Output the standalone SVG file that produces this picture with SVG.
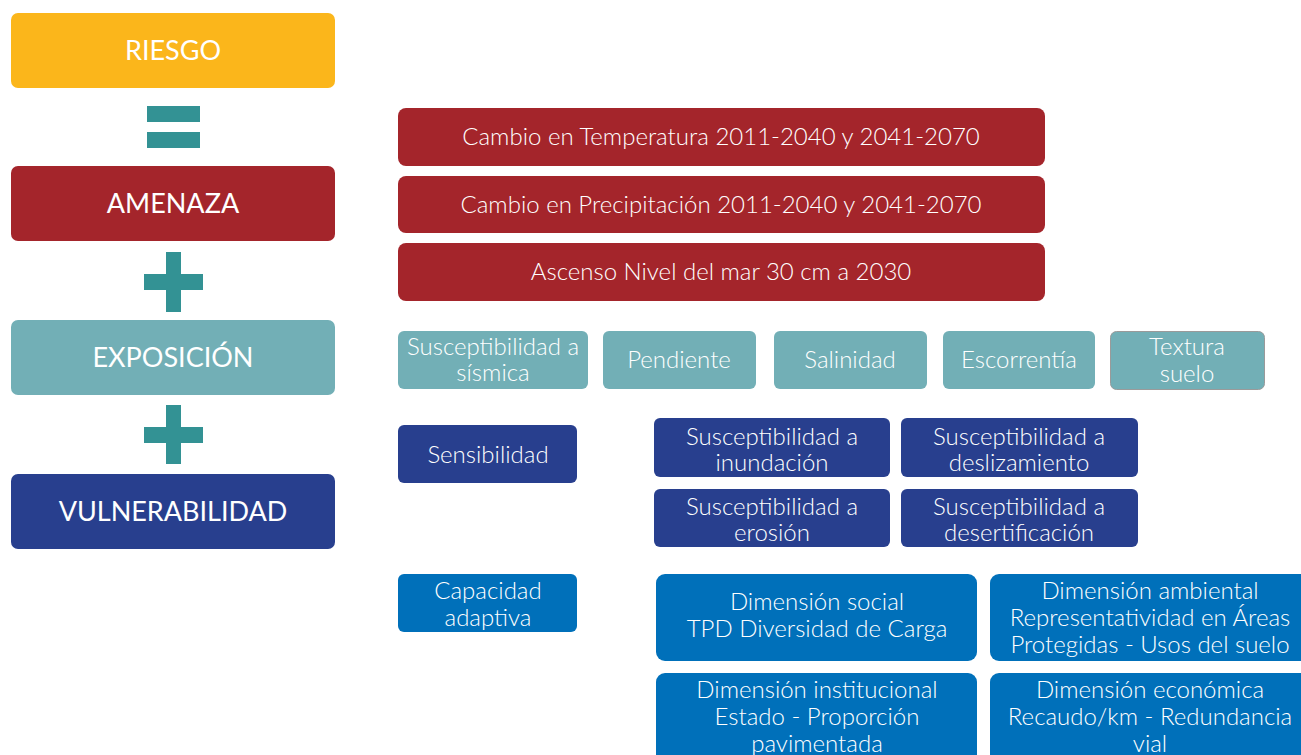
<svg xmlns="http://www.w3.org/2000/svg" width="1301" height="755" viewBox="0 0 1301 755">
<style>
text{font-family:"Lato","Open Sans","Liberation Sans",sans-serif;fill:#fff;text-anchor:middle}
.big{font-size:27px;font-weight:400}
.t{font-size:24px;font-weight:300}
.op{fill:#339294}
.yel{fill:#FBB61B}
.red{fill:#A4252B}
.teal{fill:#72AFB6}
.navy{fill:#283F8E}
.blue{fill:#0070BA}
</style>
<rect width="1301" height="755" fill="#fff"/>
<g id="riesgo"><rect class="yel" x="11" y="13" width="324" height="75" rx="7"/><text class="big" x="173" y="60">RIESGO</text></g>
<g id="equals"><rect class="op" x="147" y="106" width="53" height="16"/><rect class="op" x="147" y="132" width="53" height="16"/></g>
<g id="amenaza"><rect class="red" x="11" y="166" width="324" height="75" rx="7"/><text class="big" x="173" y="213">AMENAZA</text></g>
<g id="plus1"><rect class="op" x="166" y="252" width="15" height="60"/><rect class="op" x="144" y="274" width="59" height="16"/></g>
<g id="exposicion"><rect class="teal" x="11" y="320" width="324" height="75" rx="7"/><text class="big" x="173" y="367">EXPOSICIÓN</text></g>
<g id="plus2"><rect class="op" x="166" y="405" width="15" height="59"/><rect class="op" x="144" y="427" width="59" height="16"/></g>
<g id="vulnerabilidad"><rect class="navy" x="11" y="474" width="324" height="75" rx="7"/><text class="big" x="173" y="521">VULNERABILIDAD</text></g>

<g id="temp"><rect class="red" x="398" y="108" width="647" height="58" rx="8"/><text class="t" x="721" y="145">Cambio en Temperatura 2011-2040 y 2041-2070</text></g>
<g id="precip"><rect class="red" x="398" y="176" width="647" height="57" rx="8"/><text class="t" x="721" y="213">Cambio en Precipitación 2011-2040 y 2041-2070</text></g>
<g id="mar"><rect class="red" x="398" y="243" width="647" height="58" rx="8"/><text class="t" x="721" y="280">Ascenso Nivel del mar 30 cm a 2030</text></g>

<g id="sismica"><rect class="teal" x="398" y="331" width="190" height="58" rx="6"/><text class="t" x="493" y="355">Susceptibilidad a</text><text class="t" x="493" y="381">sísmica</text></g>
<g id="pendiente"><rect class="teal" x="603" y="331" width="153" height="58" rx="6"/><text class="t" x="679" y="368">Pendiente</text></g>
<g id="salinidad"><rect class="teal" x="774" y="331" width="153" height="58" rx="6"/><text class="t" x="850" y="368">Salinidad</text></g>
<g id="escorrentia"><rect class="teal" x="943" y="331" width="152" height="58" rx="6"/><text class="t" x="1019" y="368">Escorrentía</text></g>
<g id="textura"><rect class="teal" x="1110.5" y="331.5" width="154" height="58" rx="6" stroke="#9a9a9a" stroke-width="1"/><text class="t" x="1187" y="355">Textura</text><text class="t" x="1187" y="382">suelo</text></g>

<g id="sensibilidad"><rect class="navy" x="398" y="425" width="179" height="58" rx="6"/><text class="t" x="488" y="463">Sensibilidad</text></g>
<g id="inundacion"><rect class="navy" x="654" y="418" width="236" height="59" rx="6"/><text class="t" x="772" y="445">Susceptibilidad a</text><text class="t" x="772" y="471">inundación</text></g>
<g id="deslizamiento"><rect class="navy" x="901" y="418" width="237" height="59" rx="6"/><text class="t" x="1019" y="445">Susceptibilidad a</text><text class="t" x="1019" y="471">deslizamiento</text></g>
<g id="erosion"><rect class="navy" x="654" y="489" width="236" height="58" rx="6"/><text class="t" x="772" y="515">Susceptibilidad a</text><text class="t" x="772" y="541">erosión</text></g>
<g id="desertificacion"><rect class="navy" x="901" y="489" width="237" height="58" rx="6"/><text class="t" x="1019" y="515">Susceptibilidad a</text><text class="t" x="1019" y="541">desertificación</text></g>

<g id="capacidad"><rect class="blue" x="398" y="574" width="179" height="58" rx="6"/><text class="t" x="488" y="599">Capacidad</text><text class="t" x="488" y="626">adaptiva</text></g>
<g id="social"><rect class="blue" x="656" y="574" width="321" height="87" rx="9"/><text class="t" x="817" y="610">Dimensión social</text><text class="t" x="817" y="637">TPD Diversidad de Carga</text></g>
<g id="ambiental"><rect class="blue" x="990" y="574" width="320" height="87" rx="9"/><text class="t" x="1150" y="599">Dimensión ambiental</text><text class="t" x="1150" y="626">Representatividad en Áreas</text><text class="t" x="1150" y="653">Protegidas - Usos del suelo</text></g>
<g id="institucional"><rect class="blue" x="656" y="673" width="321" height="95" rx="9"/><text class="t" x="817" y="698">Dimensión institucional</text><text class="t" x="817" y="725">Estado - Proporción</text><text class="t" x="817" y="752">pavimentada</text></g>
<g id="economica"><rect class="blue" x="990" y="673" width="320" height="95" rx="9"/><text class="t" x="1150" y="698">Dimensión económica</text><text class="t" x="1150" y="725">Recaudo/km - Redundancia</text><text class="t" x="1150" y="752">vial</text></g>
<g id="connectors"/>
</svg>
